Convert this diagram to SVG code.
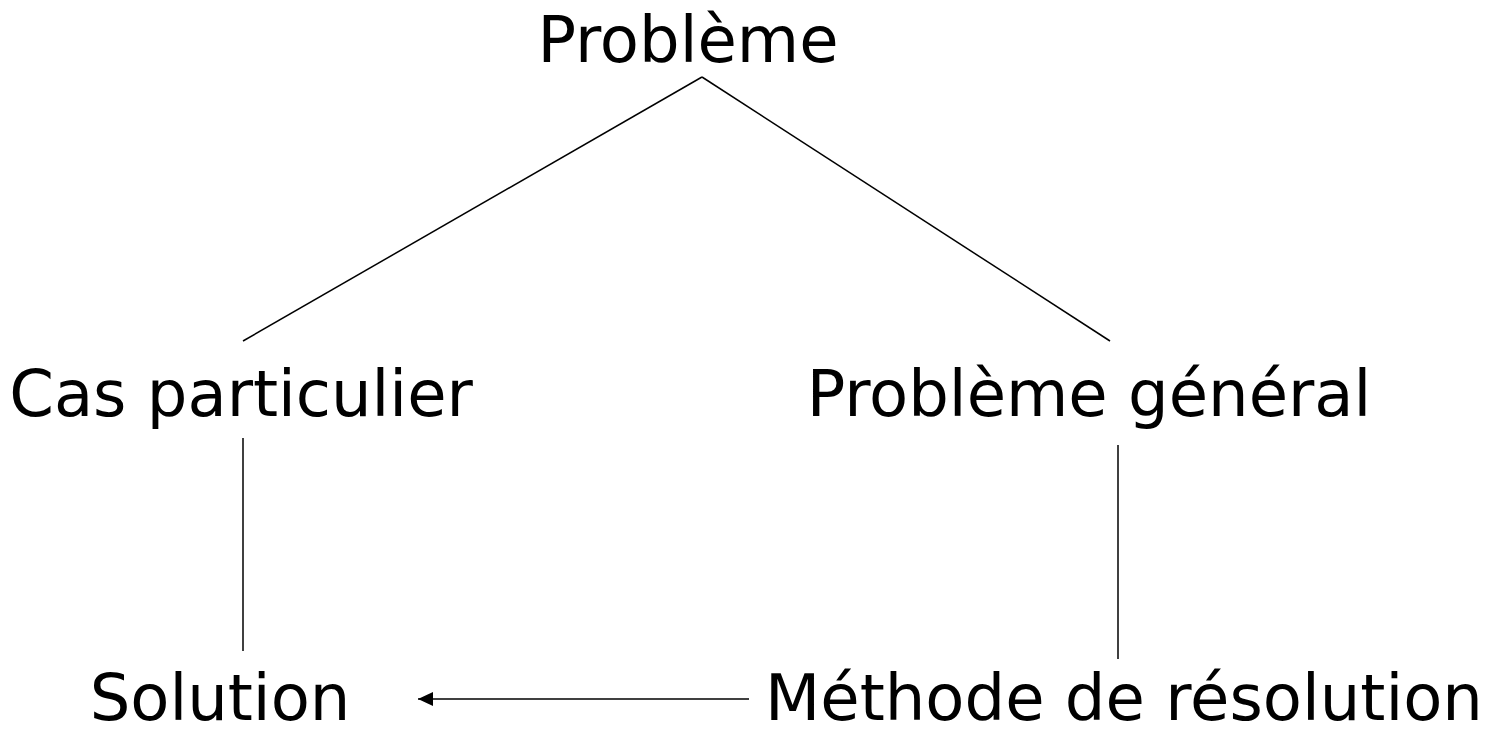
<svg xmlns="http://www.w3.org/2000/svg" width="1495" height="731" viewBox="0 0 1495 731">
<style>
text{font-family:"DejaVu Sans",Verdana,sans-serif;font-size:64px;fill:#000;text-anchor:middle}
.c line{stroke:#000;stroke-width:1.5}
</style>
<defs>
<marker id="ah" markerWidth="16" markerHeight="14" refX="15" refY="7" orient="auto" markerUnits="userSpaceOnUse">
<path d="M0,0 L15,7 L0,14 Z" fill="#000"/>
</marker>
</defs>
<rect width="1495" height="731" fill="#fff"/>
<g class="c" id="connectors">
<line x1="702" y1="77" x2="243" y2="341"/>
<line x1="702" y1="77" x2="1110" y2="341"/>
<line x1="243" y1="438" x2="243" y2="651"/>
<line x1="1118" y1="445" x2="1118" y2="659"/>
<line x1="749" y1="699" x2="418" y2="699" marker-end="url(#ah)"/>
</g>
<g id="n1"><text x="688" y="62">Problème</text></g>
<g id="n2"><text x="241" y="416">Cas particulier</text></g>
<g id="n3"><text x="1089" y="416">Problème général</text></g>
<g id="n4"><text x="220" y="720">Solution</text></g>
<g id="n5"><text x="1124" y="720">Méthode de résolution</text></g>
</svg>
